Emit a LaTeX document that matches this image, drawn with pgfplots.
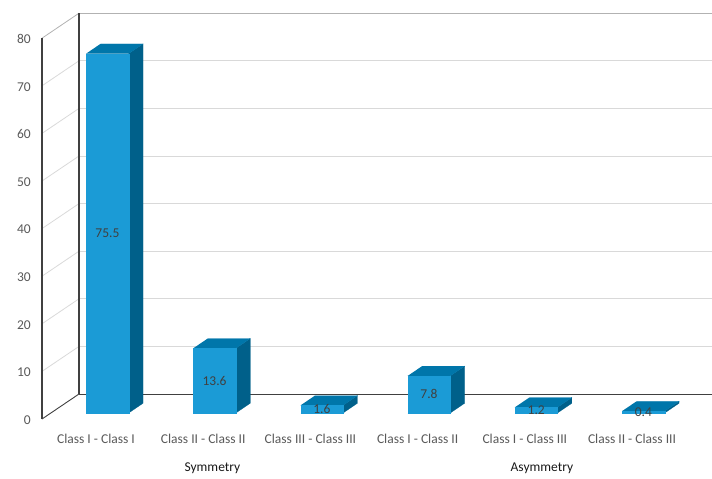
\documentclass[border=0pt]{standalone}
\usepackage{pgfplots}
\pgfplotsset{compat=1.18}
\usepackage{pgfplotstable}
\usepackage{fontspec}
\setmainfont{Carlito}
\definecolor{barfront}{RGB}{27,155,214}
\definecolor{bartop}{RGB}{0,118,170}
\definecolor{barside}{RGB}{0,96,138}
\definecolor{ticktext}{RGB}{89,89,89}
\definecolor{gridc}{RGB}{217,217,217}
\definecolor{axc}{RGB}{64,64,64}
\definecolor{lblc}{RGB}{64,64,64}

% bar values (category index, value)
\pgfplotstableread{
x v
0 75.5
1 13.6
2 1.6
3 7.8
4 1.2
5 0.4
}\data

% unit shapes of the three visible faces: x offset a, y base b, value multiplier c
\pgfplotstableread{
a b c
-0.092 1.26 0
0.305 1.26 0
0.305 1.26 1
-0.092 1.26 1
}\frontface
\pgfplotstableread{
a b c
-0.092 1.26 1
0.305 1.26 1
0.439 3.31 1
0.042 3.31 1
}\topface
\pgfplotstableread{
a b c
0.305 1.26 0
0.439 3.31 0
0.439 3.31 1
0.305 1.26 1
}\sideface

\newcommand\cube[2]{%
  \addplot[fill=barside, draw=barside, line width=0.2pt] table[x expr=#1+\thisrow{a}, y expr=\thisrow{b}+#2*\thisrow{c}]{\sideface};
  \addplot[fill=bartop, draw=bartop, line width=0.2pt] table[x expr=#1+\thisrow{a}, y expr=\thisrow{b}+#2*\thisrow{c}]{\topface};
  \addplot[fill=barfront, draw=barfront, line width=0.2pt] table[x expr=#1+\thisrow{a}, y expr=\thisrow{b}+#2*\thisrow{c}]{\frontface};
}

\begin{document}
\begin{tikzpicture}
\begin{axis}[
  x=107.2pt, y=4.76pt,
  xmin=-0.5037, xmax=5.7463, ymin=0, ymax=85.25,
  clip=false,
  set layers,
  axis line style={draw=none},
  tick style={draw=none},
  major tick length=0pt,
  xtick={0,...,5},
  xticklabels={Class I - Class I, Class II - Class II, Class III - Class III, Class I - Class II, Class I - Class III, Class II - Class III},
  ytick={0,10,...,80},
  tick label style={font=\fontsize{13.5}{15}\selectfont, text=ticktext},
  yticklabel style={inner sep=0pt, xshift=-11pt, yshift=-1pt},
  xticklabel style={inner sep=0pt, yshift=-15pt},
  /pgf/number format/assume math mode=true,
  no markers,
]
\coordinate (bl) at (axis cs:-0.5037,0);
% walls and gridlines
\pgfplotsinvokeforeach{10,20,...,70}{
  \draw[gridc, line width=0.8pt, on layer=axis background] (axis cs:-0.1587,#1+5.25) -- (axis cs:5.7463,#1+5.25);
  \draw[gridc, line width=0.8pt, on layer=axis background] (axis cs:-0.5037,#1) -- (axis cs:-0.1587,#1+5.25);
}
\draw[gray!60, line width=0.8pt, on layer=axis background] (axis cs:-0.1587,85.25) -- (axis cs:5.7463,85.25);
\draw[gray!60, line width=0.8pt, on layer=axis background] (axis cs:-0.5037,80) -- (axis cs:-0.1587,85.25);
\draw[axc, line width=0.9pt, on layer=axis background] (axis cs:-0.1587,5.25) -- (axis cs:5.7463,5.25);
\draw[axc, line width=0.9pt, on layer=axis background] (axis cs:-0.5037,0) -- (axis cs:-0.1587,5.25);
\draw[axc, line width=1.1pt, on layer=axis background] (axis cs:-0.5037,0) -- (axis cs:-0.5037,80);
\draw[axc, line width=1.1pt, on layer=axis background] (axis cs:-0.1587,5.25) -- (axis cs:-0.1587,85.25);

\cube{0}{75.5}
\cube{1}{13.6}
\cube{2}{1.6}
\cube{3}{7.8}
\cube{4}{1.2}
\cube{5}{0.4}

% data labels
\addplot[draw=none, nodes near coords, point meta=explicit symbolic,
  every node near coord/.append style={anchor=center, font=\fontsize{13.5}{15}\selectfont, text=lblc}]
  table[x expr=\thisrow{x}+0.1065, y expr=1.26+\thisrow{v}/2, meta=v]{\data};

\node[font=\fontsize{13.5}{15}\selectfont, text=black!90] at (axis cs:1.086,0) [yshift=-49pt] {Symmetry};
\node[font=\fontsize{13.5}{15}\selectfont, text=black!90] at (axis cs:4.160,0) [yshift=-49pt] {Asymmetry};
\end{axis}
\pgfresetboundingbox
\path[use as bounding box] ([shift={(-42pt,-60pt)}]bl) rectangle ([shift={(670pt,419pt)}]bl);
\end{tikzpicture}
\end{document}
